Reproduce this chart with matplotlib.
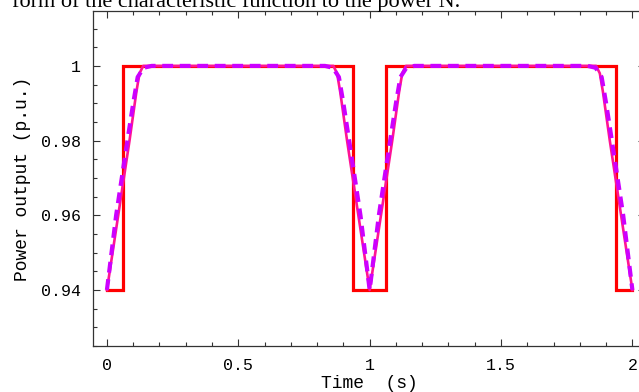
import matplotlib
matplotlib.use("Agg")
import matplotlib.pyplot as plt
from matplotlib.ticker import MultipleLocator

# step response (red)
t_step = [0, 0.0625, 0.0625, 0.9375, 0.9375, 1.0625, 1.0625, 1.9375, 1.9375, 2.0]
p_step = [0.94, 0.94, 1.0, 1.0, 0.94, 0.94, 1.0, 1.0, 0.94, 0.94]

# ramp approximation (pink, solid)
t_ramp = [0, 0.043, 0.086, 0.112, 0.124, 0.138, 0.862, 0.876, 0.888, 0.914, 0.957, 1.0,
          1.043, 1.086, 1.112, 1.124, 1.138, 1.862, 1.876, 1.888, 1.914, 1.957, 2.0]
p_ramp = [0.94, 0.96, 0.98, 0.993, 0.998, 1.0, 1.0, 0.998, 0.993, 0.98, 0.96, 0.94,
          0.96, 0.98, 0.993, 0.998, 1.0, 1.0, 0.998, 0.993, 0.98, 0.96, 0.94]

# smooth characteristic-function curve (purple, dashed)
t_smooth = [0, 0.035, 0.078, 0.100, 0.117, 0.140, 0.170, 0.830, 0.860, 0.883, 0.900, 0.922, 0.965, 1.0,
            1.035, 1.078, 1.100, 1.117, 1.140, 1.170, 1.830, 1.860, 1.883, 1.900, 1.922, 1.965, 2.0]
p_smooth = [0.94, 0.96, 0.98, 0.99, 0.997, 0.9995, 1.0, 1.0, 0.9995, 0.997, 0.99, 0.98, 0.96, 0.94,
            0.96, 0.98, 0.99, 0.997, 0.9995, 1.0, 1.0, 0.9995, 0.997, 0.99, 0.98, 0.96, 0.94]

mono = "Liberation Mono"

fig = plt.figure(figsize=(6.39, 3.92), dpi=100)
# axes runs off the right edge like the original crop
ax = fig.add_axes([93 / 639, 1 - 346 / 392, 552 / 639, 335 / 392])

ax.plot(t_step, p_step, color="#ff0000", linewidth=2.3, solid_joinstyle="miter")
ax.plot(t_ramp, p_ramp, color="#ff1493", linewidth=1.9)
ax.plot(t_smooth, p_smooth, color="#cc00ff", linewidth=3.0, linestyle=(0, (2.6, 1.6)))

ax.set_xlim(-0.053, 2.048)
ax.set_ylim(0.925, 1.0147)

ax.xaxis.set_major_locator(MultipleLocator(0.5))
ax.xaxis.set_minor_locator(MultipleLocator(0.1))
ax.yaxis.set_major_locator(MultipleLocator(0.02))
ax.yaxis.set_minor_locator(MultipleLocator(0.005))
ax.set_xticks([0, 0.5, 1, 1.5, 2])
ax.set_xticklabels(["0", "0.5", "1", "1.5", "2"])
ax.set_yticks([0.94, 0.96, 0.98, 1.0])
ax.set_yticklabels(["0.94", "0.96", "0.98", "1"])

ax.tick_params(which="both", direction="in", top=True, right=True, width=0.8, color="#333333")
ax.tick_params(which="major", length=5, pad=9)
ax.tick_params(which="minor", length=3)
for lab in ax.get_xticklabels() + ax.get_yticklabels():
    lab.set_family(mono)
    lab.set_fontsize(12)

for _, v in ax.spines.items():
    v.set_linewidth(0.9)
    v.set_color("#333333")

ax.set_xlabel("Time  (s)", family=mono, fontsize=13, labelpad=1)
ax.set_ylabel("Power output (p.u.)", family=mono, fontsize=13)
ax.yaxis.set_label_coords(-0.112, 0.5)

# cut-off caption line above the plot
fig.text(12 / 639, 1 - 7.5 / 392, "form of the characteristic function to the power N.",
         family="Liberation Serif", fontsize=16, ha="left", va="baseline")

fig.savefig("out.png", dpi=100)
